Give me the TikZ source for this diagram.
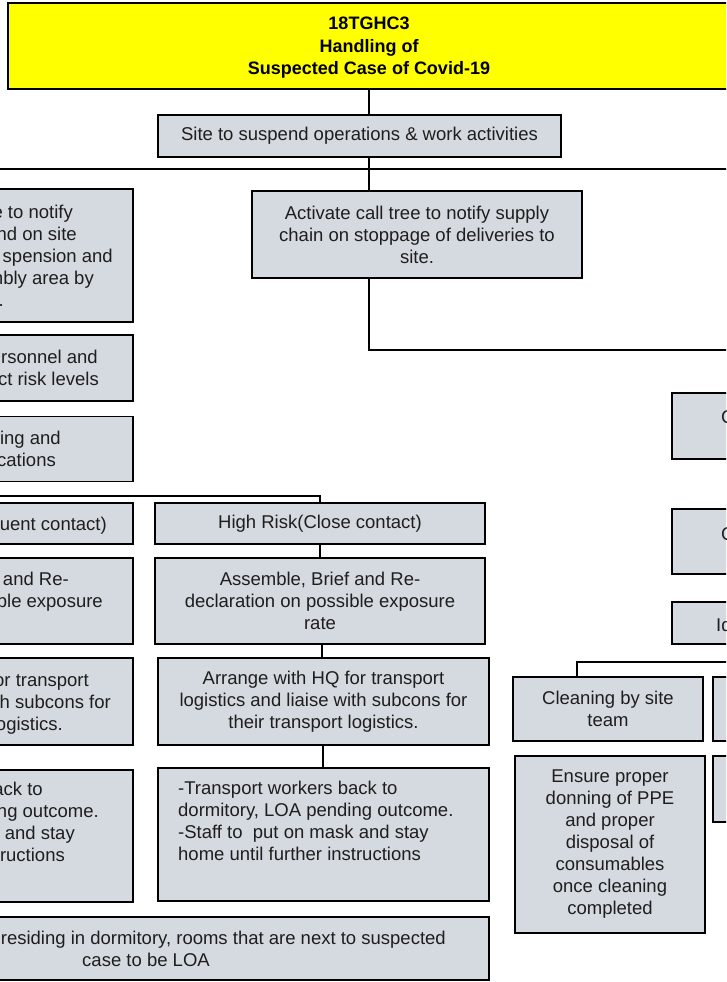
\documentclass[tikz,border=0pt]{standalone}
\usepackage{fontspec}
\setmainfont{Liberation Sans}
\usetikzlibrary{positioning}
\definecolor{boxgray}{RGB}{213,218,224}
\definecolor{titleyellow}{RGB}{255,255,0}
\definecolor{inkgray}{RGB}{30,30,30}
\newcommand{\bodyfont}{\fontsize{18.5pt}{22pt}\selectfont}
\tikzset{
  stepbox/.style={draw=black, line width=1.5pt, fill=boxgray, inner sep=0pt,
    align=center, font=\bodyfont, text=inkgray},
  frag/.style={anchor=base east, inner sep=0pt, font=\bodyfont, text=inkgray},
  link/.style={draw=black, line width=1.4pt}
}

\begin{document}
\begin{tikzpicture}[x=1pt,y=-1pt]
\useasboundingbox (0,0) rectangle (726,982);
\fill[white] (0,0) rectangle (726,982);
\clip (0,0) rectangle (726,982);

% title and first step
\node[stepbox, fill=titleyellow, text=black, font=\bfseries\fontsize{18pt}{22.5pt}\selectfont,
  minimum width=722pt, minimum height=86pt] (title) at (369,46)
  {\rule{0pt}{16pt}18TGHC3\\Handling of\\Suspected Case of Covid-19};
\node[stepbox, minimum width=403pt, minimum height=42pt] (site) at (359.5,136)
  {Site to suspend operations \& work activities};
\node[stepbox, minimum width=330pt, minimum height=87pt] (act) at (417,234.5)
  {Activate call tree to notify supply\\chain on stoppage of deliveries to\\site.};

% left column, cut at the edge
\node[stepbox, minimum width=330pt, minimum height=133pt] (notify) at (-32,255.5) {};
\node[frag] (notify1) at (73,218) {e to notify};
\node[frag] (notify2) at (77,240) {nd on site};
\node[frag] (notify3) at (113,262) {spension and};
\node[frag] (notify4) at (94,284) {mbly area by};
\node[frag] (notify5) at (4,306) {.};

\node[stepbox, minimum width=330pt, minimum height=66pt] (levels) at (-32,368) {};
\node[frag] (levels1) at (98,363) {rsonnel and};
\node[frag] (levels2) at (99,385) {ct risk levels};

\node[stepbox, minimum width=330pt, minimum height=65pt] (locs) at (-32,449) {};
\node[frag] (locs1) at (61,444) {ing and};
\node[frag] (locs2) at (56,466) {cations};

\node[stepbox, minimum width=330pt, minimum height=41pt] (low) at (-32,523.5) {};
\node[frag] (low1) at (107,530) {uent contact)};

\node[stepbox, minimum width=330pt, minimum height=86pt] (lowasm) at (-32,601) {};
\node[frag] (lowasm1) at (69,585) {and Re-};
\node[frag] (lowasm2) at (103,607) {ble exposure};

\node[stepbox, minimum width=331pt, minimum height=87pt] (lowarr) at (-32.5,701.5) {};
\node[frag] (lowarr1) at (89,686) {or transport};
\node[frag] (lowarr2) at (111,708) {h subcons for};
\node[frag] (lowarr3) at (63,730) {ogistics.};

\node[stepbox, minimum width=331pt, minimum height=132pt] (lowtrans) at (-32.5,836) {};
\node[frag] (lowtrans1) at (43,795) {ack to};
\node[frag] (lowtrans2) at (99,817) {ng outcome.};
\node[frag] (lowtrans3) at (75,839) {k and stay};
\node[frag] (lowtrans4) at (65,861) {tructions};

% high risk column
\node[stepbox, minimum width=330pt, minimum height=41pt] (high) at (320,523.5)
  {High Risk(Close contact)};
\node[stepbox, minimum width=330pt, minimum height=86pt] (asm) at (320,601)
  {Assemble, Brief and Re-\\declaration on possible exposure\\rate};
\node[stepbox, minimum width=331pt, minimum height=87pt] (arr) at (323.5,701.5)
  {Arrange with HQ for transport\\logistics and liaise with subcons for\\their transport logistics.};
\node[stepbox, minimum width=331pt, minimum height=133pt] (trans) at (323.5,834.5) {};
\node[anchor=north west, inner sep=0pt, align=left, font=\bodyfont, text=inkgray] (transtxt) at (178,781)
  {-Transport workers back to\\dormitory, LOA pending outcome.\\-Staff to\ \ put on mask and stay\\home until further instructions};

% dormitory note
\node[stepbox, minimum width=686pt, minimum height=63pt] (dorm) at (146,948.5) {};
\node[frag] (dorm1) at (446,944) {residing in dormitory, rooms that are next to suspected};
\node[frag, anchor=base] (dorm2) at (146,966) {case to be LOA};

% right column, cut at the edge
\node[stepbox, minimum width=200pt, minimum height=66pt] (rtop) at (772,426) {};
\node[frag, anchor=base west] (rtop1) at (721,423) {C};
\node[stepbox, minimum width=200pt, minimum height=65pt] (rmid) at (772,541.5) {};
\node[frag, anchor=base west] (rmid1) at (721,540) {C};
\node[stepbox, minimum width=200pt, minimum height=42pt] (rlow) at (772,623) {};
\node[frag, anchor=base west] (rlow1) at (716,631) {Id};

\node[stepbox, minimum width=190pt, minimum height=64pt] (clean) at (608,709)
  {Cleaning by site\\team};
\node[stepbox, minimum width=190pt, minimum height=177pt] (ensure) at (610,844.5)
  {Ensure proper\\donning of PPE\\and proper\\disposal of\\consumables\\once cleaning\\completed};
\node[stepbox, minimum width=200pt, minimum height=64pt] (rclean) at (813,709) {};
\node[stepbox, minimum width=200pt, minimum height=66pt] (rensure) at (813,789) {};

% connectors
\coordinate (busW) at (-10,169);
\coordinate (busE) at (740,169);
\coordinate (actE) at (740,350);
\coordinate (riskW) at (-10,496);
\coordinate (cleanE) at (740,662);
\coordinate (cleanJ) at (577,0);

\draw[link] (title.south) -- (title.south |- site.north);
\draw[link] (site.south -| title.south) -- (act.north -| title.south);
\draw[link] (busW) -- (busE);
\draw[link] (act.south -| title.south) |- (actE);
\draw[link] (riskW) -| (high.north);
\draw[link] (high) -- (asm);
\draw[link] (asm.south -| 322,0) -- (arr.north -| 322,0);
\draw[link] (arr.south -| 323,0) -- (trans.north -| 323,0);
\draw[link] (cleanE) -| (clean.north -| cleanJ);

\end{tikzpicture}
\end{document}
